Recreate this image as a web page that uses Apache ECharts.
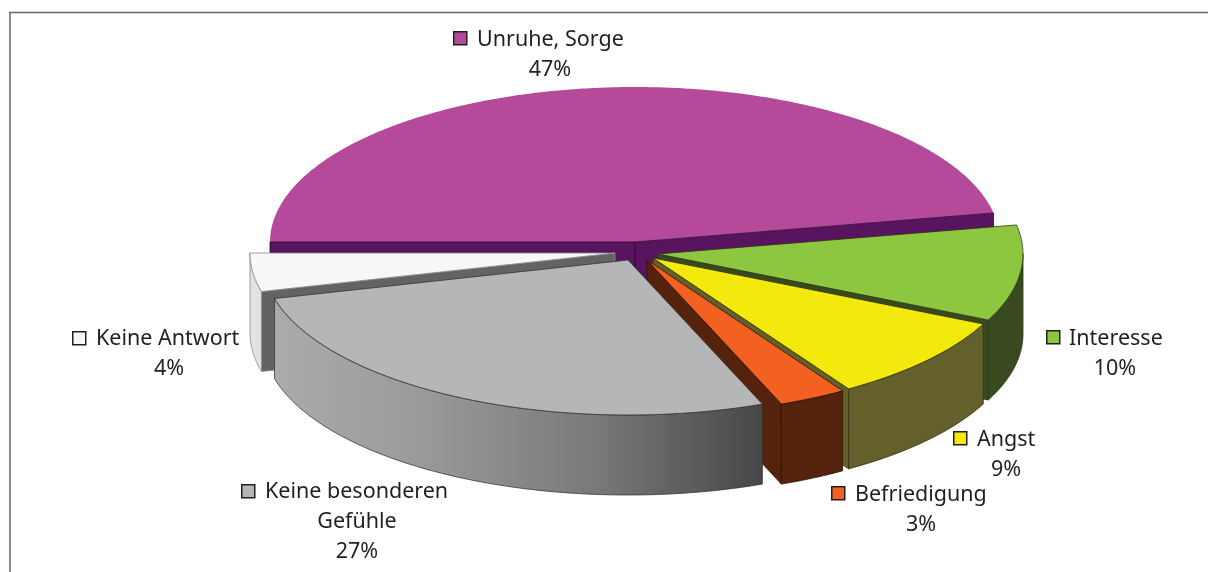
<!DOCTYPE html>
<html>
<head>
<meta charset="utf-8">
<style>html,body{margin:0;padding:0;background:#fff}#c{width:1208px;height:572px}</style>
<script src="https://cdn.jsdelivr.net/npm/echarts@6/dist/echarts.min.js"></script>
</head>
<body>
<div id="c"></div>
<script>
// ---- data ----
const categories = ['Unruhe, Sorge', 'Interesse', 'Angst', 'Befriedigung', 'Keine besonderen\nGefühle', 'Keine Antwort'];
const shares = [47, 10, 9, 3, 27, 4];

// ---- styling / layout ----
const topColors = ['#B54A9A', '#8DC63F', '#F2EA0D', '#F26122', '#B6B6B6', '#F7F7F6'];
const wallColors = ['#59145F', '#3A4A20', '#63602B', '#55230C', '#4A4A4A', '#E2E2E2'];
const cutColors = ['#59145F', '#3A4A20', '#63602B', '#55230C', '#4A4A4A', '#636363'];
const edgeColors = ['#2a0a2c', '#2a3614', '#33320f', '#2b1105', '#333333', '#8a8a8a'];
const apexOffsets = [[0, 0], [23, 12], [18, 16], [12, 18], [-7, 18], [-20, 11]];
const drawOrder = [0, 1, 2, 3, 5, 4];
const labelAnchors = [
  { key: [453, 31], text: [477, 40], center: 550 },
  { key: [1046, 330], text: [1069, 339], center: 1115 },
  { key: [953, 431], text: [977, 440], center: 1006 },
  { key: [831, 486], text: [855, 495], center: 921 },
  { key: [241, 484], text: [265, 492], center: 357 },
  { key: [72, 331], text: [96, 339], center: 169 }
];
const PIE = { cx: 635, cy: 242, rx: 365, ry: 155, depth: 80, startDeg: 180 };
const FONT = { fontFamily: '"Noto Sans"', fontSize: 21.5, fill: '#231F20' };
const LINE_H = 30;

const total = shares.reduce((a, b) => a + b, 0);
const chart = echarts.init(document.getElementById('c'), null, { renderer: 'canvas' });

function angles(i) {
  const before = shares.slice(0, i).reduce((a, b) => a + b, 0);
  return [PIE.startDeg - before / total * 360, PIE.startDeg - (before + shares[i]) / total * 360];
}
function pt(ax, ay, deg, dz) {
  const r = deg * Math.PI / 180;
  return [ax + PIE.rx * Math.cos(r), ay - PIE.ry * Math.sin(r) + (dz || 0)];
}
function arc(ax, ay, from, to, dz) {
  const pts = [];
  const n = Math.max(2, Math.ceil(Math.abs(from - to) * 2));
  for (let k = 0; k <= n; k++) pts.push(pt(ax, ay, from + (to - from) * k / n, dz));
  return pts;
}

function renderItem(params, api) {
  const i = params.dataIndex;
  const [a1, a2] = angles(i);
  const ax = PIE.cx + apexOffsets[i][0], ay = PIE.cy + apexOffsets[i][1];
  const base = drawOrder.indexOf(i) * 10;
  const lw = 0.8;
  const kids = [];
  // the back slice carries its edge line on the walls, above its top face
  const cutZ = i === 0 ? 5 : 1;
  const cut = (deg) => {
    const p = pt(ax, ay, deg);
    kids.push({
      type: 'polygon', z2: base + cutZ,
      shape: { points: [[ax, ay], p, [p[0], p[1] + PIE.depth], [ax, ay + PIE.depth]] },
      style: { fill: cutColors[i], stroke: edgeColors[i], lineWidth: lw }
    });
  };
  // only radial cuts that face the viewer are drawn
  if (Math.cos(a1 * Math.PI / 180) < 0) cut(a1);
  if (Math.cos(a2 * Math.PI / 180) > 0) cut(a2);
  // outer wall: only the front half of the rim can be seen
  const f = Math.min(a1, 0), t = a2;
  if (f > t) {
    const upper = arc(ax, ay, f, t, 0);
    const lower = arc(ax, ay, t, f, PIE.depth);
    const wallFill = i === 4
      ? new echarts.graphic.LinearGradient(0, 0, 1, 0, [
          { offset: 0, color: '#ABABA9' }, { offset: 0.3, color: '#9A9A98' },
          { offset: 0.65, color: '#7A7A7A' }, { offset: 1, color: '#474747' }])
      : wallColors[i];
    kids.push({
      type: 'polygon', z2: base + 3,
      shape: { points: upper.concat(lower) },
      style: { fill: wallFill, stroke: edgeColors[i], lineWidth: lw }
    });
  }
  // top face
  kids.push({
    type: 'polygon', z2: base + 4,
    shape: { points: [[ax, ay]].concat(arc(ax, ay, a1, a2, 0)) },
    style: i === 0
      ? { fill: topColors[i] }
      : { fill: topColors[i], stroke: edgeColors[i], lineWidth: lw }
  });
  // label: key square + text lines
  const L = labelAnchors[i];
  kids.push({
    type: 'rect', z2: 200,
    shape: { x: L.key[0] + 0.75, y: L.key[1] + 0.75, width: 13, height: 13 },
    style: { fill: topColors[i], stroke: '#231F20', lineWidth: 1.5 }
  });
  const lines = categories[i].split('\n');
  lines.forEach((s, k) => {
    kids.push({
      type: 'text', z2: 200,
      style: Object.assign({}, FONT, {
        text: s,
        x: k === 0 ? L.text[0] : L.center,
        y: L.text[1] + k * LINE_H,
        align: k === 0 ? 'left' : 'center',
        verticalAlign: 'middle'
      })
    });
  });
  kids.push({
    type: 'text', z2: 200,
    style: Object.assign({}, FONT, {
      text: api.value(0) + '%',
      x: L.center,
      y: L.text[1] + lines.length * LINE_H,
      align: 'center',
      verticalAlign: 'middle'
    })
  });
  return { type: 'group', children: kids };
}

chart.setOption({
  animation: false,
  backgroundColor: '#ffffff',
  graphic: [
    { type: 'line', silent: true, shape: { x1: 10, y1: 12, x2: 10, y2: 572 }, style: { stroke: '#8A8A8A', lineWidth: 2 } },
    { type: 'line', silent: true, shape: { x1: 9, y1: 12.5, x2: 1208, y2: 12.5 }, style: { stroke: '#666666', lineWidth: 1.5 } }
  ],
  series: [{
    type: 'custom',
    coordinateSystem: 'none',
    silent: true,
    clip: false,
    renderItem: renderItem,
    encode: { value: 0 },
    data: shares.map((v, i) => ({ name: categories[i], value: [v] }))
  }]
});
</script>
</body>
</html>
